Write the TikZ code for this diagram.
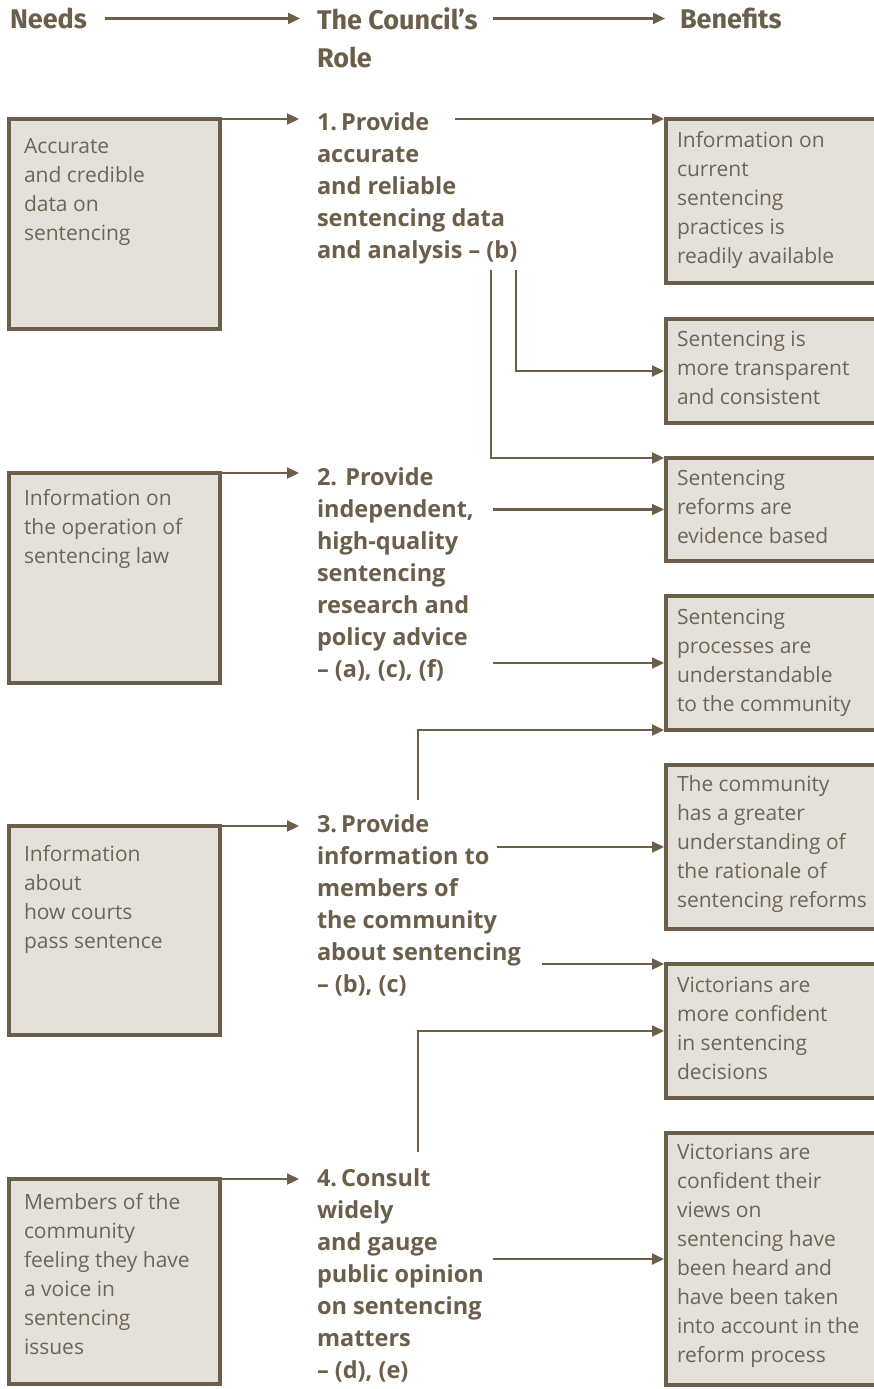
\documentclass[tikz,border=0pt]{standalone}
\usepackage{fontspec}
\setmainfont{Open Sans}
\newfontfamily\headfont{Fira Sans}
\usetikzlibrary{arrows.meta}
\definecolor{frame}{HTML}{6B5E4A}
\definecolor{boxfill}{HTML}{E4E1DB}
\definecolor{plain}{HTML}{6E6556}

\begin{document}
\begin{tikzpicture}[
      x=1pt, y=-1pt,
      every node/.style={inner sep=0pt, outer sep=0pt},
      needbox/.style={rectangle, draw=frame, fill=boxfill, line width=4pt, anchor=north west, minimum width=211pt},
      benefitbox/.style={rectangle, draw=frame, fill=boxfill, line width=4pt, anchor=north west, minimum width=240pt},
      boxtext/.style={anchor=north west, align=left, text=plain, font=\fontsize{21}{29}\selectfont},
      roletext/.style={anchor=north west, align=left, text=frame, font=\fontsize{23.5}{32}\selectfont\bfseries},
      heading/.style={anchor=north west, align=left, text=frame, font=\headfont\fontsize{27}{38}\selectfont\bfseries},
      pointer/.style={line width=2.2pt, draw=frame, -{Triangle[length=12pt,width=11pt]}},
      link/.style={line width=2.2pt, draw=frame}
      ]
      \clip (0,0) rectangle (874,1389);

      % headings
      \node[heading] (hneeds) at (10,8) {Needs};
      \node[heading] (hrole) at (317,8) {The Council’s\\Role};
      \node[heading] (hben) at (680,8) {Benefits};
      \draw[pointer, shorten <=18pt, shorten >=17pt] (hneeds.east) -- (hneeds.east -| hrole.west);
      \draw[pointer, shorten <=15pt, shorten >=15pt] (hrole.east |- hneeds.east) -- (hben.west);

      % needs
      \node[needbox, minimum height=210pt] (n1) at (9,119) {};
      \node[needbox, minimum height=210pt] (n2) at (9,473) {};
      \node[needbox, minimum height=209pt] (n3) at (9,826) {};
      \node[needbox, minimum height=205pt] (n4) at (9,1179) {};
      \node[boxtext] (t1) at (24,138) {Accurate\\and credible\\data on\\sentencing};
      \node[boxtext] (t2) at (24,489) {Information on\\the operation of\\sentencing law};
      \node[boxtext] (t3) at (24,845) {Information\\about\\how courts\\pass sentence};
      \node[boxtext] (t4) at (24,1193) {Members of the\\community\\feeling they have\\a voice in\\sentencing\\issues};

      % role
      \node[roletext] (r1) at (317,113) {1.\,Provide\\accurate\\and reliable\\sentencing data\\and analysis -- (b)};
      \node[roletext] (r2) at (317,468) {2. Provide\\independent,\\high-quality\\sentencing\\research and\\policy advice\\-- (a), (c), (f)};
      \node[roletext] (r3) at (317,815) {3.\,Provide\\information to\\members of\\the community\\about sentencing\\-- (b), (c)};
      \node[roletext] (r4) at (317,1169) {4.\,Consult\\widely\\and gauge\\public opinion\\on sentencing\\matters\\-- (d), (e)};

      % benefits
      \node[benefitbox, minimum height=164pt] (b1) at (666,119) {};
      \node[benefitbox, minimum height=104pt] (b2) at (666,319) {};
      \node[benefitbox, minimum height=103pt] (b3) at (666,458) {};
      \node[benefitbox, minimum height=134pt] (b4) at (666,596) {};
      \node[benefitbox, minimum height=164pt] (b5) at (666,765) {};
      \node[benefitbox, minimum height=134pt] (b6) at (666,964) {};
      \node[benefitbox, minimum height=252pt] (b7) at (666,1133) {};
      \node[boxtext] (u1) at (677,131) {Information on\\current\\sentencing\\practices is\\readily available};
      \node[boxtext] (u2) at (677,331) {Sentencing is\\more transparent\\and consistent};
      \node[boxtext] (u3) at (677,470) {Sentencing\\reforms are\\evidence based};
      \node[boxtext] (u4) at (677,609) {Sentencing\\processes are\\understandable\\to the community};
      \node[boxtext] (u5) at (677,776) {The community\\has a greater\\understanding of\\the rationale of\\sentencing reforms};
      \node[boxtext] (u6) at (677,977) {Victorians are\\more confident\\in sentencing\\decisions};
      \node[boxtext] (u7) at (677,1144) {Victorians are\\confident their\\views on\\sentencing have\\been heard and\\have been taken\\into account in the\\reform process};

      % needs to role
      \foreach \i in {1,...,4}
        \draw[pointer] (n\i.north east) -- ([xshift=-18pt]n\i.north east -| r\i.west);

      % role to benefits
      \coordinate (r1a) at (455,0 |- b1.north west);
      \coordinate (r1b) at (516,270);
      \coordinate (r1c) at (491,270);
      \coordinate (r2a) at (493,0 |- b3.west);
      \coordinate (r2b) at (493,0 |- b4.west);
      \coordinate (r3a) at (418,800);
      \coordinate (r3b) at (497,0 |- b5.west);
      \coordinate (r3c) at (542,0 |- b6.north west);
      \coordinate (r4a) at (418,1152);
      \coordinate (r4b) at (493,0 |- b7.west);
      \draw[pointer, shorten >=2pt] (r1a) -- (b1.north west);
      \draw[pointer, shorten >=2pt] (r1b) |- (b2.west);
      \draw[pointer, shorten >=2pt] (r1c) |- (b3.north west);
      \draw[pointer, shorten >=2pt] (r2a) -- (b3.west);
      \draw[pointer, shorten >=2pt] (r2b) -- (b4.west);
      \draw[pointer, shorten >=2pt] (r3a) |- (b4.south west);
      \draw[pointer, shorten >=2pt] (r3b) -- (b5.west);
      \draw[pointer, shorten >=2pt] (r3c) -- (b6.north west);
      \draw[pointer, shorten >=2pt] (r4a) |- (b6.west);
      \draw[pointer, shorten >=2pt] (r4b) -- (b7.west);
    \end{tikzpicture}
\end{document}
